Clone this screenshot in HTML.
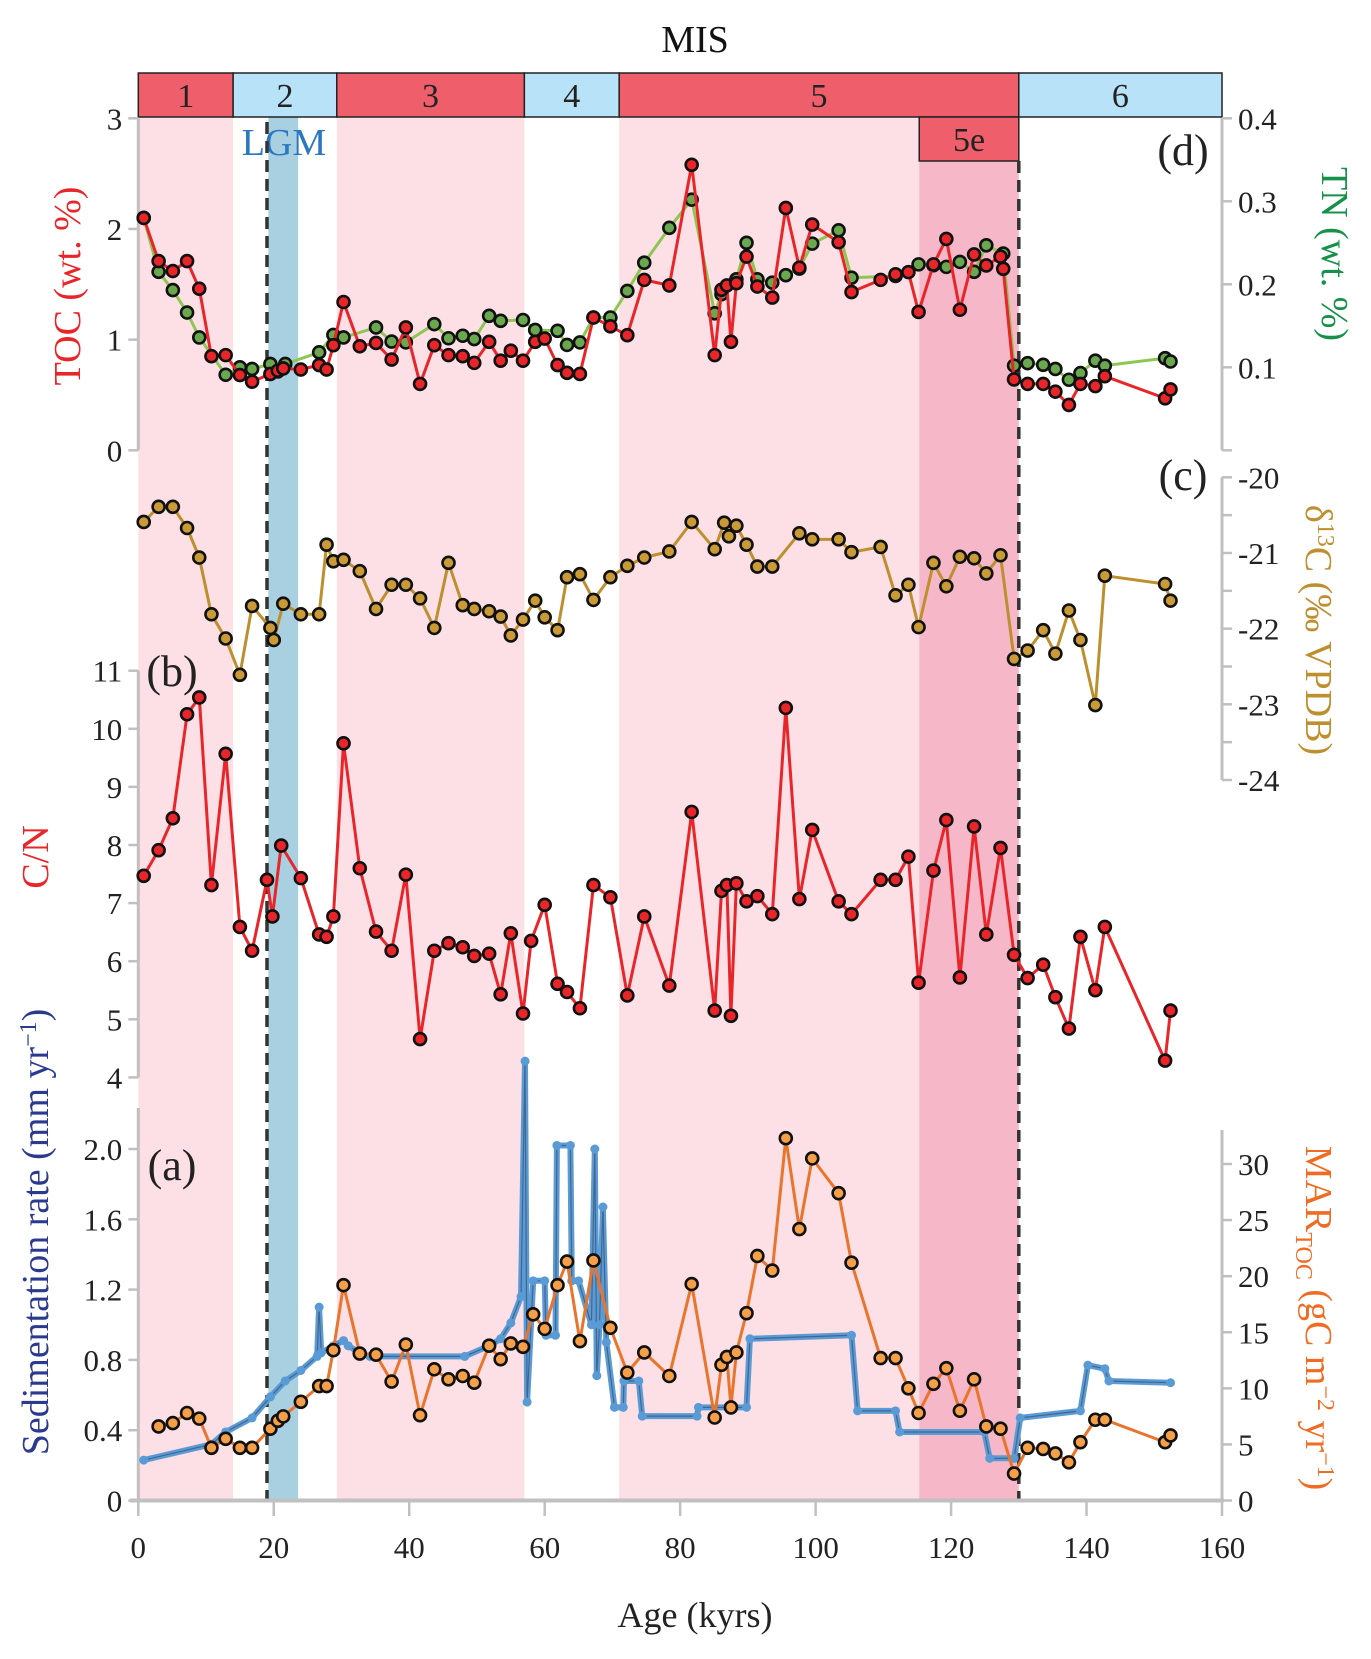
<!DOCTYPE html>
<html><head><meta charset="utf-8"><style>
body{margin:0;background:#fff;}
svg{display:block;font-family:"Liberation Serif","DejaVu Serif",serif;}
</style></head><body>
<svg id="chart" width="1371" height="1659" viewBox="0 0 1371 1659" xmlns="http://www.w3.org/2000/svg"></svg>
<script>
// ---- data ----
const tocAge=[0.8,3.0,5.1,7.2,9.0,10.8,12.9,15.0,16.8,19.5,20.6,21.4,24.0,26.7,27.8,28.8,30.3,32.7,35.1,37.4,39.5,41.6,43.7,45.8,47.9,49.6,51.8,53.5,55.0,56.8,58.6,60.0,61.9,63.3,65.2,67.2,69.7,72.2,74.7,78.4,81.7,85.1,86.1,86.9,87.5,88.3,89.8,91.4,93.6,95.6,97.6,99.5,103.4,105.3,109.6,111.8,113.7,115.2,117.4,119.3,121.3,123.4,125.2,127.3,127.7,129.3,131.3,133.6,135.4,137.4,139.1,141.3,142.7,151.6,152.4];
const tocVal=[2.10,1.71,1.62,1.71,1.46,0.85,0.86,0.68,0.62,0.69,0.72,0.74,0.73,0.77,0.73,0.95,1.34,0.94,0.97,0.82,1.11,0.60,0.95,0.86,0.85,0.79,0.98,0.81,0.90,0.81,0.98,1.01,0.77,0.70,0.69,1.20,1.12,1.04,1.54,1.49,2.58,0.86,1.45,1.49,0.98,1.51,1.75,1.48,1.38,2.19,1.65,2.04,1.88,1.43,1.54,1.59,1.61,1.25,1.68,1.91,1.27,1.77,1.67,1.75,1.64,0.64,0.60,0.60,0.53,0.41,0.60,0.58,0.67,0.47,0.55];
const tnAge=[0.8,3.0,5.1,7.2,9.0,12.9,15.0,16.8,19.5,20.6,21.7,26.7,28.8,30.3,35.1,37.4,39.5,43.7,45.8,47.9,49.6,51.8,53.5,56.8,58.6,61.9,63.3,65.2,67.2,69.7,72.2,74.7,78.4,81.7,85.1,86.1,88.3,89.8,91.4,93.6,95.6,97.6,99.5,103.4,105.3,111.8,115.2,117.4,119.3,121.3,123.4,125.2,127.7,129.3,131.3,133.6,135.4,137.4,139.1,141.3,142.7,151.6,152.4];
const tnVal=[0.280,0.215,0.193,0.166,0.136,0.091,0.100,0.098,0.104,0.095,0.104,0.118,0.139,0.136,0.148,0.131,0.130,0.152,0.135,0.138,0.134,0.162,0.156,0.157,0.145,0.144,0.127,0.130,0.160,0.160,0.192,0.226,0.268,0.302,0.165,0.188,0.206,0.250,0.206,0.202,0.211,0.219,0.249,0.265,0.208,0.210,0.224,0.223,0.221,0.227,0.215,0.247,0.237,0.102,0.105,0.103,0.098,0.085,0.093,0.108,0.102,0.111,0.107];
const d13Age=[0.8,3.0,5.1,7.2,9.0,10.8,12.9,15.0,16.8,19.5,20.0,21.4,24.0,26.7,27.8,28.8,30.3,32.7,35.1,37.4,39.5,41.6,43.7,45.8,47.9,49.6,51.8,53.5,55.0,56.8,58.6,60.0,61.9,63.3,65.2,67.2,69.7,72.2,74.7,78.4,81.7,85.1,86.5,87.2,88.3,89.8,91.4,93.6,97.6,99.5,103.4,105.3,109.6,111.8,113.7,115.2,117.4,119.3,121.3,123.4,125.2,127.3,129.3,131.3,133.6,135.4,137.4,139.1,141.3,142.7,151.6,152.4];
const d13Val=[-20.59,-20.39,-20.39,-20.67,-21.06,-21.81,-22.13,-22.61,-21.70,-21.99,-22.15,-21.67,-21.81,-21.81,-20.89,-21.11,-21.09,-21.24,-21.74,-21.42,-21.42,-21.60,-21.99,-21.13,-21.69,-21.74,-21.77,-21.84,-22.09,-21.88,-21.63,-21.85,-22.02,-21.32,-21.28,-21.62,-21.32,-21.17,-21.06,-20.98,-20.59,-20.95,-20.60,-20.78,-20.64,-20.89,-21.18,-21.18,-20.74,-20.82,-20.82,-20.99,-20.92,-21.56,-21.42,-21.98,-21.13,-21.44,-21.05,-21.07,-21.27,-21.03,-22.40,-22.29,-22.02,-22.33,-21.76,-22.15,-23.01,-21.30,-21.41,-21.63];
const cnAge=[0.8,3.0,5.1,7.2,9.0,10.8,12.9,15.0,16.8,19.0,19.8,21.1,24.0,26.7,27.8,28.8,30.3,32.7,35.1,37.4,39.5,41.6,43.7,45.8,47.9,49.6,51.8,53.5,55.0,56.8,58.0,60.0,61.9,63.3,65.2,67.2,69.7,72.2,74.7,78.4,81.7,85.1,86.1,86.9,87.5,88.3,89.8,91.4,93.6,95.6,97.6,99.5,103.4,105.3,109.6,111.8,113.7,115.2,117.4,119.3,121.3,123.4,125.2,127.3,129.3,131.3,133.6,135.4,137.4,139.1,141.3,142.7,151.6,152.4];
const cnVal=[7.47,7.91,8.46,10.25,10.54,7.31,9.57,6.59,6.18,7.40,6.77,7.99,7.43,6.46,6.42,6.77,9.75,7.60,6.51,6.18,7.49,4.66,6.18,6.31,6.24,6.09,6.13,5.43,6.48,5.10,6.35,6.97,5.61,5.47,5.19,7.31,7.10,5.41,6.77,5.58,8.57,5.15,7.21,7.31,5.06,7.34,7.03,7.12,6.81,10.36,7.07,8.26,7.03,6.81,7.40,7.40,7.80,5.63,7.56,8.43,5.72,8.32,6.46,7.95,6.11,5.71,5.94,5.38,4.84,6.42,5.50,6.59,4.29,5.15];
const sedAge=[0.8,10.8,12.9,16.8,19.5,21.7,24.0,26.4,26.7,27.0,28.8,30.3,31.0,32.7,34.2,48.2,51.8,53.5,55.0,56.5,57.1,57.4,58.3,60.0,60.2,61.6,61.8,63.8,64.0,65.0,66.9,67.4,67.7,68.1,68.6,69.1,70.3,71.6,71.7,73.9,74.4,82.5,82.7,89.8,90.3,105.3,106.2,111.8,112.4,124.9,125.7,129.3,130.2,139.1,140.2,142.7,143.3,152.4];
const sedVal=[0.23,0.32,0.39,0.47,0.59,0.68,0.74,0.82,1.10,0.84,0.88,0.91,0.88,0.84,0.82,0.82,0.88,0.92,1.01,1.16,2.50,0.56,1.25,1.25,0.94,0.94,2.02,2.02,1.25,1.25,1.0,2.0,0.71,1.0,1.67,0.9,0.53,0.53,0.68,0.68,0.48,0.48,0.53,0.53,0.92,0.94,0.51,0.51,0.39,0.39,0.24,0.24,0.47,0.51,0.77,0.75,0.68,0.67];
const marAge=[3.0,5.1,7.2,9.0,10.8,12.9,15.0,16.8,19.5,20.6,21.4,24.0,26.7,27.8,28.8,30.3,32.7,35.1,37.4,39.5,41.6,43.7,45.8,47.9,49.6,51.8,53.5,55.0,56.8,58.3,60.0,61.9,63.3,65.2,67.2,69.7,72.2,74.7,78.4,81.7,85.1,86.1,86.9,87.5,88.3,89.8,91.4,93.6,95.6,97.6,99.5,103.4,105.3,109.6,111.8,113.7,115.2,117.4,119.3,121.3,123.4,125.2,127.3,129.3,131.3,133.6,135.4,137.4,139.1,141.3,142.7,151.6,152.4];
const marVal=[6.6,6.9,7.8,7.3,4.7,5.5,4.7,4.7,6.4,7.1,7.5,8.8,10.2,10.2,13.4,19.2,13.1,13.0,10.6,13.9,7.6,11.7,10.8,11.1,10.5,13.8,12.6,14.0,13.7,16.6,15.3,19.2,21.3,14.2,21.4,15.4,11.4,13.2,11.1,19.3,7.4,12.1,12.8,8.3,13.2,16.7,21.8,20.5,32.3,24.2,30.5,27.4,21.2,12.7,12.7,10.0,7.8,10.4,11.8,8.0,10.8,6.6,6.4,2.4,4.7,4.6,4.2,3.4,5.2,7.2,7.2,5.2,5.8];
const misNames=['1','2','3','4','5','6'];
const misStart=[0,14,29.3,57,71,130];
const misEnd=[14,29.3,57,71,130,160];
const xTicks=[0,20,40,60,80,100,120,140,160];
const tocTicks=[0,1,2,3];
const tnTicks=[0.1,0.2,0.3,0.4];
const d13Ticks=[-20,-21,-22,-23,-24];
const cnTicks=[4,5,6,7,8,9,10,11];
const sedTicks=[0,0.4,0.8,1.2,1.6,2.0];
const marTicks=[0,5,10,15,20,25,30];

// ---- scales ----
const X=a=>138.3+a*(1222-138.3)/160;
const lin=(d0,d1,r0,r1)=>v=>r0+(v-d0)*(r1-r0)/(d1-d0);
const yTOC=lin(0,3,450.3,118.3), yTN=lin(0,0.4,450.3,118.3), yD13=lin(-20,-24,477.3,780);
const yCN=lin(4,11,1077.4,670.7), ySed=lin(0,2,1500.5,1149), yMar=lin(0,30,1500.5,1164);

const svg=document.getElementById('chart');
const NS='http://www.w3.org/2000/svg';
function mk(tag,attrs,parent){const e=document.createElementNS(NS,tag);for(const k in attrs)e.setAttribute(k,attrs[k]);(parent||svg).appendChild(e);return e;}
function txt(s,attrs,parent){const e=mk('text',attrs,parent);e.textContent=s;return e;}

// background shading
const shadeTop=117, shadeBot=1500;
[[0,14],[29.3,57],[71,115.3]].forEach(r=>{const e=mk('rect',{x:X(r[0]),y:shadeTop,width:X(r[1])-X(r[0]),height:shadeBot-shadeTop,fill:'#fce0e6'});

});
let e5=mk('rect',{x:X(115.3),y:161,width:X(130)-X(115.3),height:shadeBot-161,fill:'#f6b8c9'});


let e6=mk('rect',{x:X(115.3),y:shadeTop,width:X(130)-X(115.3),height:44,fill:'#fce0e6'});
let lg=mk('rect',{x:X(19.2),y:shadeTop,width:X(23.6)-X(19.2),height:shadeBot-shadeTop,fill:'#a9d0e1'});



// MIS bar
txt('MIS',{x:695,y:52,'font-size':38,'text-anchor':'middle',fill:'#111'});
misNames.forEach((n,i)=>{const r=mk('rect',{x:X(misStart[i]),y:73,width:X(misEnd[i])-X(misStart[i]),height:44,fill:(i%2?'#b8e2f8':'#ef5f6b'),stroke:'#222','stroke-width':1.5});


txt(n,{x:(X(misStart[i])+X(misEnd[i]))/2,y:107,'font-size':34,'text-anchor':'middle',fill:'#222'});});
let b5=mk('rect',{x:X(115.3),y:117,width:X(130)-X(115.3),height:44,fill:'#ef5f6b',stroke:'#222','stroke-width':1.5});


txt('5e',{x:(X(115.3)+X(130))/2,y:151,'font-size':34,'text-anchor':'middle',fill:'#222'});
txt('LGM',{x:X(21.5),y:155,'font-size':38,'text-anchor':'middle',fill:'#2a78c0'});

// dashed lines
[19.0,130].forEach(a=>{const l=mk('line',{x1:X(a),x2:X(a),y1:a<100?122:161,y2:1500,stroke:'#333','stroke-width':3.5,'stroke-dasharray':'12 7'});

});

// axes helper
const AX='#c0c0c0';
function vAxis(x,y0,y1,ticks,scale,fmt,side,name){const g=mk('g',{});
mk('line',{x1:x,x2:x,y1:y0,y2:y1,stroke:AX,'stroke-width':3},g);
ticks.forEach(t=>{const y=scale(t);mk('line',{x1:x,x2:x+(side<0?-10:10),y1:y,y2:y,stroke:AX,'stroke-width':2.5},g);
txt(fmt(t),{x:side<0?x-16:x+16,y:y+11,'font-size':31,'text-anchor':side<0?'end':'start',fill:'#222'},g);});}
vAxis(138.3,118.3,450.3,tocTicks,yTOC,t=>String(t),-1,'toc-axis');
vAxis(1222,118.3,450.3,tnTicks,yTN,t=>t.toFixed(1),1,'tn-axis');
mk('line',{x1:1222,x2:1232,y1:450.3,y2:450.3,stroke:AX,'stroke-width':2.5});
vAxis(1222,477.3,780,d13Ticks,yD13,t=>String(t),1,'d13c-axis');
[-20.5,-21.5,-22.5,-23.5].forEach(t=>mk('line',{x1:1222,x2:1232,y1:yD13(t),y2:yD13(t),stroke:AX,'stroke-width':2.5}));
vAxis(138.3,670.7,1077.4,cnTicks,yCN,t=>String(t),-1,'cn-axis');
vAxis(138.3,1108,1500.5,sedTicks,ySed,t=>t===0?'0':t.toFixed(1),-1,'sed-rate-axis');
vAxis(1222,1130,1500.5,marTicks,yMar,t=>String(t),1,'mar-toc-axis');
// x axis
const xg=mk('g',{});
mk('line',{x1:130,x2:1224,y1:1500.5,y2:1500.5,stroke:AX,'stroke-width':4},xg);
xTicks.forEach(t=>{mk('line',{x1:X(t),x2:X(t),y1:1500,y2:1516,stroke:AX,'stroke-width':2.5},xg);
txt(String(t),{x:X(t),y:1558,'font-size':31,'text-anchor':'middle',fill:'#222'},xg);});
txt('Age (kyrs)',{x:695,y:1627,'font-size':36,'text-anchor':'middle',fill:'#222'});

// axis titles
function vt(s,x,y,rot,col,name,size){const t=mk('text',{x:0,y:0,'font-size':size||38,'text-anchor':'middle',fill:col,transform:`translate(${x},${y}) rotate(${rot})`});t.innerHTML=s;return t;}
vt('TOC (wt. %)',80,286,-90,'#e8262a','toc-axis-title');
vt('TN (wt. %)',1322,254,90,'#16904a','tn-axis-title');
vt('δ<tspan dy="-12" font-size="24">13</tspan><tspan dy="12">C (‰ VPDB)</tspan>',1306,630,90,'#bd8f2f','d13c-axis-title');
vt('C/N',48,857,-90,'#e8262a','cn-axis-title');
vt('Sedimentation rate (mm yr<tspan dy="-12" font-size="24">−1</tspan><tspan dy="12">)</tspan>',48,1232,-90,'#2b3a8f','sed-rate-axis-title');
vt('MAR<tspan dy="10" font-size="24">TOC</tspan><tspan dy="-10"> (gC m</tspan><tspan dy="-12" font-size="24">−2</tspan><tspan dy="12"> yr</tspan><tspan dy="-12" font-size="24">−1</tspan><tspan dy="12">)</tspan>',1306,1318,90,'#ef6c22','mar-toc-axis-title');

// panel labels
[['(d)',1183,165],['(c)',1183,490],['(b)',172,686],['(a)',172,1180]].forEach(p=>{const t=txt(p[0],{x:p[1],y:p[2],'font-size':44,'text-anchor':'middle',fill:'#222'});

});

// series
function series(ages,vals,ys,line,fill,name,lw,mr){
const g=mk('g',{});
const pts=ages.map((a,i)=>X(a).toFixed(1)+','+ys(vals[i]).toFixed(1)).join(' ');
mk('polyline',{points:pts,fill:'none',stroke:line,'stroke-width':lw||3,'stroke-linejoin':'round'},g);
if(fill){ages.forEach((a,i)=>{const c=mk('circle',{cx:X(a),cy:ys(vals[i]),r:mr||6,fill:fill,stroke:'#111','stroke-width':2.6},g);

});}
return g;}
series(d13Age,d13Val,yD13,'#bd8f2f','#c99a35','d13c-series');
series(tnAge,tnVal,yTN,'#8dc653','#6aa84f','tn-series');
series(tocAge,tocVal,yTOC,'#e8262a','#e8262a','toc-series');
series(cnAge,cnVal,yCN,'#e8262a','#e8262a','cn-series');
// sedimentation rate: navy line + blue band + dots
series(sedAge,sedVal,ySed,'#34435f',null,'sed-rate-series',2.5);
series(sedAge,sedVal,ySed,'#5b9bd5',null,'sed-rate-band',6);
mk('polyline',{points:sedAge.map((a,i)=>X(a).toFixed(1)+','+ySed(sedVal[i]).toFixed(1)).join(' '),fill:'none',stroke:'#34435f','stroke-width':1.2,'stroke-opacity':0.6});
sedAge.forEach((a,i)=>{const c=mk('circle',{cx:X(a),cy:ySed(sedVal[i]),r:4.5,fill:'#5b9bd5'});

});
series(marAge,marVal,yMar,'#e9742b','#f5a049','mar-toc-series',3,6);
</script>
</body></html>
